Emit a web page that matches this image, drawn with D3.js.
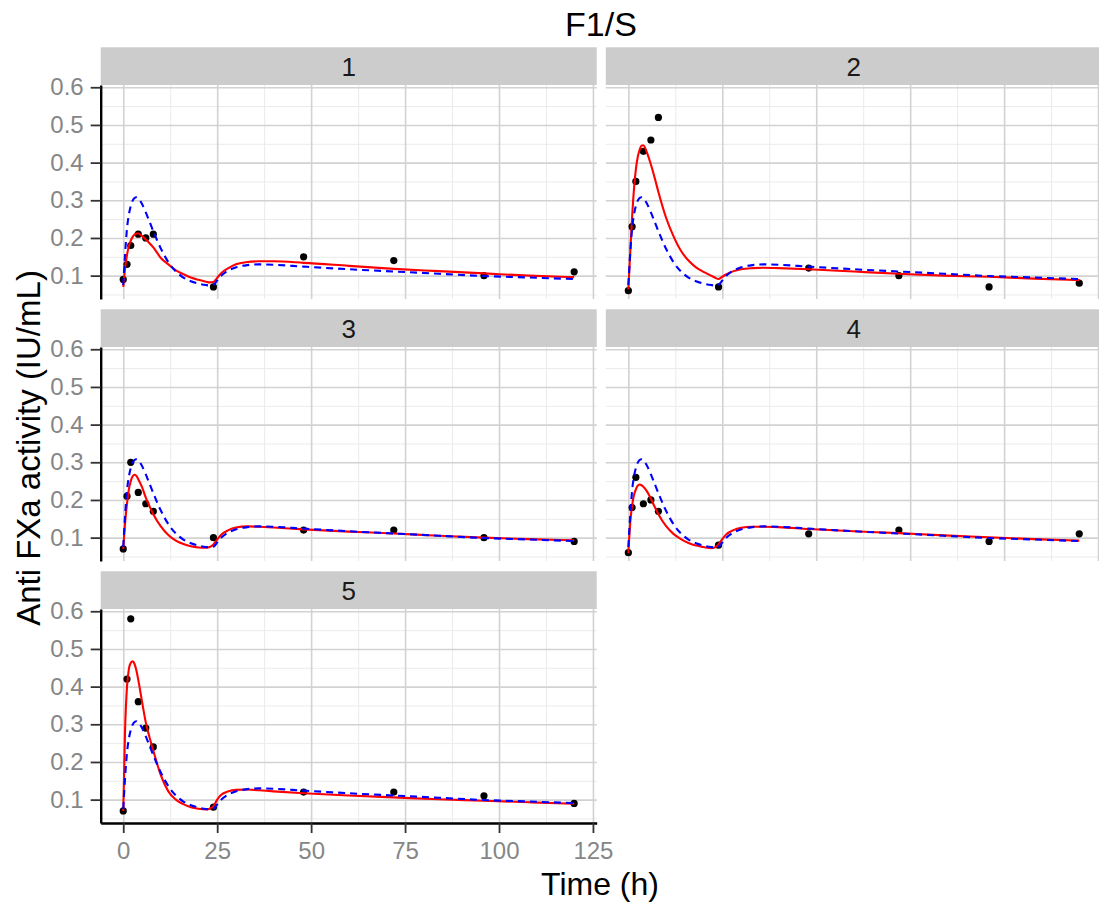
<!DOCTYPE html>
<html>
<head>
<meta charset="utf-8">
<script src="https://cdn.jsdelivr.net/npm/d3@7"></script>
<style>
  body { margin: 0; background: #fff; }
  svg { display: block; }
  text { font-family: "Liberation Sans", Arial, sans-serif; }
</style>
</head>
<body>
<div id="chart"></div>
<script>
// observed sampling times (h) and observed anti FXa activity per subject
const obsTimes = [0, 1, 2, 4, 6, 8, 24, 48, 72, 96, 120];
const subjects = ["1", "2", "3", "4", "5"];
const obs1 = [0.09, 0.13, 0.18, 0.21, 0.20, 0.21, 0.07, 0.15, 0.14, 0.10, 0.11];
const obs2 = [0.06, 0.23, 0.35, 0.43, 0.46, 0.52, 0.07, 0.12, 0.10, 0.07, 0.08];
const obs3 = [0.07, 0.21, 0.30, 0.22, 0.19, 0.17, 0.10, 0.12, 0.12, 0.10, 0.09];
const obs4 = [0.06, 0.18, 0.26, 0.19, 0.20, 0.17, 0.08, 0.11, 0.12, 0.09, 0.11];
const obs5 = [0.07, 0.42, 0.58, 0.36, 0.29, 0.24, 0.08, 0.12, 0.12, 0.11, 0.09];

// prediction curves at these times
const predTimes = [0, 0.5, 1, 1.5, 2, 2.5, 3, 3.5, 4, 5, 6, 7, 8, 10, 12, 14, 16, 18, 20, 22, 23, 24, 25, 26, 28, 30, 33, 36, 40, 48, 60, 72, 84, 96, 108, 120];
// population prediction (blue dashed), same for every subject
const popPred = [0.075, 0.16, 0.225, 0.262, 0.285, 0.299, 0.306, 0.308, 0.305, 0.29, 0.268, 0.243, 0.218, 0.172, 0.136, 0.111, 0.095, 0.085, 0.079, 0.075, 0.074, 0.076, 0.087, 0.099, 0.114, 0.122, 0.128, 0.13, 0.129, 0.124, 0.117, 0.111, 0.105, 0.099, 0.095, 0.091];
// individual predictions (red)
const ipred1 = [0.07, 0.12, 0.155, 0.178, 0.193, 0.203, 0.209, 0.212, 0.212, 0.205, 0.196, 0.186, 0.175, 0.147, 0.13, 0.114, 0.104, 0.095, 0.089, 0.084, 0.082, 0.083, 0.094, 0.106, 0.12, 0.13, 0.136, 0.138, 0.138, 0.134, 0.126, 0.118, 0.112, 0.106, 0.1, 0.096];
const ipred2 = [0.064, 0.16, 0.255, 0.33, 0.382, 0.415, 0.434, 0.445, 0.446, 0.425, 0.395, 0.36, 0.322, 0.255, 0.205, 0.166, 0.14, 0.122, 0.11, 0.1, 0.095, 0.091, 0.097, 0.103, 0.112, 0.117, 0.12, 0.121, 0.12, 0.117, 0.111, 0.105, 0.1, 0.097, 0.092, 0.088];
const ipred3 = [0.07, 0.14, 0.19, 0.228, 0.25, 0.263, 0.267, 0.264, 0.255, 0.234, 0.206, 0.183, 0.162, 0.13, 0.107, 0.092, 0.083, 0.077, 0.074, 0.073, 0.075, 0.082, 0.095, 0.107, 0.12, 0.127, 0.13, 0.129, 0.127, 0.122, 0.116, 0.111, 0.105, 0.1, 0.096, 0.093];
const ipred4 = [0.059, 0.14, 0.185, 0.213, 0.228, 0.238, 0.241, 0.239, 0.235, 0.222, 0.203, 0.182, 0.162, 0.131, 0.11, 0.096, 0.086, 0.079, 0.075, 0.072, 0.074, 0.082, 0.096, 0.108, 0.12, 0.126, 0.129, 0.129, 0.128, 0.123, 0.117, 0.112, 0.106, 0.101, 0.096, 0.092];
const ipred5 = [0.07, 0.29, 0.4, 0.447, 0.463, 0.467, 0.46, 0.443, 0.418, 0.36, 0.305, 0.265, 0.23, 0.165, 0.122, 0.1, 0.088, 0.08, 0.076, 0.074, 0.076, 0.082, 0.1, 0.112, 0.122, 0.126, 0.127, 0.125, 0.122, 0.117, 0.111, 0.106, 0.101, 0.097, 0.093, 0.089];

const xTicks = [0, 25, 50, 75, 100, 125];
const xMinor = [12.5, 37.5, 62.5, 87.5, 112.5];
const yTicks = [0.1, 0.2, 0.3, 0.4, 0.5, 0.6];
const yMinor = [0.05, 0.15, 0.25, 0.35, 0.45, 0.55];

const obsAll = [obs1, obs2, obs3, obs4, obs5];
const ipredAll = [ipred1, ipred2, ipred3, ipred4, ipred5];

const width = 1099, height = 909;
const panelW = 496, panelH = 214, stripH = 37.7;
const colX = [100.7, 605.8];
const rowY = [47.3, 309.3, 571.3];

const svg = d3.select("#chart").append("svg")
  .attr("width", width).attr("height", height);

const x = d3.scaleLinear().domain([-6, 126]).range([0, panelW]);
const y = d3.scaleLinear().domain([0.038, 0.606]).range([panelH, 0]);

const line = d3.line()
  .x(d => x(d.t)).y(d => y(d.v))
  .curve(d3.curveMonotoneX);

subjects.forEach(function (id, i) {
  const col = i % 2, row = Math.floor(i / 2);
  const g = svg.append("g")
    .attr("transform", "translate(" + colX[col] + "," + (rowY[row] + stripH) + ")");

  // strip
  svg.append("rect")
    .attr("x", colX[col]).attr("y", rowY[row])
    .attr("width", panelW).attr("height", stripH)
    .attr("fill", "#cccccc");
  svg.append("text")
    .attr("x", colX[col] + panelW / 2).attr("y", rowY[row] + stripH / 2)
    .attr("dy", "0.36em").attr("text-anchor", "middle")
    .attr("font-size", 26).attr("fill", "#1a1a1a")
    .text(id);

  // minor grid
  g.append("g").attr("class", "grid")
    .call(d3.axisLeft(y).tickValues(yMinor).tickSize(-panelW).tickFormat(""))
    .call(s => s.selectAll("line").attr("stroke", "#ebebeb").attr("stroke-width", 1));
  g.append("g").attr("class", "grid")
    .attr("transform", "translate(0," + panelH + ")")
    .call(d3.axisBottom(x).tickValues(xMinor).tickSize(-panelH).tickFormat(""))
    .call(s => s.selectAll("line").attr("stroke", "#ebebeb").attr("stroke-width", 1));
  // major grid
  g.append("g").attr("class", "grid")
    .call(d3.axisLeft(y).tickValues(yTicks).tickSize(-panelW).tickFormat(""))
    .call(s => s.selectAll("line").attr("stroke", "#d2d2d2").attr("stroke-width", 1.6));
  g.append("g").attr("class", "grid")
    .attr("transform", "translate(0," + panelH + ")")
    .call(d3.axisBottom(x).tickValues(xTicks).tickSize(-panelH).tickFormat(""))
    .call(s => s.selectAll("line").attr("stroke", "#d2d2d2").attr("stroke-width", 1.6));
  g.selectAll(".grid .domain").remove();

  // observations
  const pts = obsTimes.map((t, k) => ({ t: t, v: obsAll[i][k] }));
  g.selectAll("circle").data(pts).enter().append("circle")
    .attr("cx", d => x(d.t)).attr("cy", d => y(d.v))
    .attr("r", 3.6).attr("fill", "#000");

  // individual prediction
  const ip = predTimes.map((t, k) => ({ t: t, v: ipredAll[i][k] }));
  g.append("path").datum(ip)
    .attr("d", line).attr("fill", "none")
    .attr("stroke", "#ff0000").attr("stroke-width", 2.1);

  // population prediction
  const pp = predTimes.map((t, k) => ({ t: t, v: popPred[k] }));
  g.append("path").datum(pp)
    .attr("d", line).attr("fill", "none")
    .attr("stroke", "#0000ff").attr("stroke-width", 2.1)
    .attr("stroke-dasharray", "7,5");

  // y axis on the left column
  if (col === 0) {
    g.append("g")
      .call(d3.axisLeft(y).tickValues(yTicks).tickSize(10).tickSizeOuter(0)
        .tickPadding(7).tickFormat(d3.format(".1f")))
      .call(s => s.select(".domain").attr("stroke", "#000").attr("stroke-width", 2.4))
      .call(s => s.selectAll(".tick line").attr("stroke", "#333").attr("stroke-width", 1.8))
      .call(s => s.selectAll(".tick text").attr("fill", "#868686")
        .attr("font-size", 24).attr("font-family", "Liberation Sans, Arial, sans-serif"));
  }
  // x axis on the last panel of each column
  if (i === 4) {
    g.append("g").attr("transform", "translate(0," + panelH + ")")
      .call(d3.axisBottom(x).tickValues(xTicks).tickSize(10).tickSizeOuter(0)
        .tickPadding(9))
      .call(s => s.select(".domain").attr("stroke", "#000").attr("stroke-width", 2.4))
      .call(s => s.selectAll(".tick line").attr("stroke", "#333").attr("stroke-width", 1.8))
      .call(s => s.selectAll(".tick text").attr("fill", "#868686")
        .attr("font-size", 24).attr("font-family", "Liberation Sans, Arial, sans-serif"));
  }
});

// titles
svg.append("text")
  .attr("x", 601).attr("y", 36).attr("text-anchor", "middle")
  .attr("font-size", 34).attr("fill", "#000")
  .text("F1/S");
svg.append("text")
  .attr("x", 600).attr("y", 895).attr("text-anchor", "middle")
  .attr("font-size", 32).attr("fill", "#000")
  .text("Time (h)");
svg.append("text")
  .attr("transform", "translate(40,448) rotate(-90)")
  .attr("text-anchor", "middle")
  .attr("font-size", 33).attr("fill", "#000")
  .text("Anti FXa activity (IU/mL)");
</script>
</body>
</html>
